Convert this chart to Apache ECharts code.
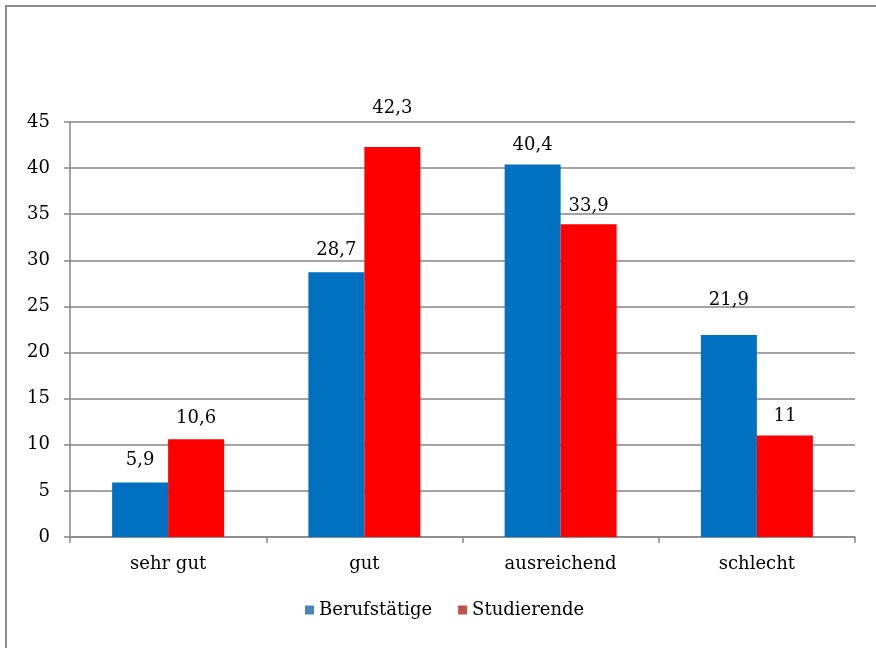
<!DOCTYPE html>
<html>
<head>
<meta charset="utf-8">
<script src="https://cdn.jsdelivr.net/npm/echarts@6/dist/echarts.min.js"></script>
<style>
  html, body { margin: 0; padding: 0; background: #fff; }
  #frame { position: absolute; left: 5px; top: 5px; width: 880px; height: 660px;
           border-left: 2px solid #8c8c8c; border-top: 2px solid #8c8c8c; box-sizing: border-box; }
  #chart { position: absolute; left: 0; top: 0; width: 876px; height: 648px; }
</style>
</head>
<body>
<div id="frame"></div>
<div id="chart"></div>
<script>
// Ratings by group (percent)
const categories = ['sehr gut', 'gut', 'ausreichend', 'schlecht'];
const berufstaetige = [5.9, 28.7, 40.4, 21.9];
const studierende = [10.6, 42.3, 33.9, 11];
const yTicks = [0, 5, 10, 15, 20, 25, 30, 35, 40, 45];

// Label gaps above each bar, in pixels
const gapBeruf = [13, 13, 10, 26];
const gapStud = [12, 30, 9, 10];

const FONT = 'DejaVu Serif';
const GRID = '#868686';

function fmt(v) { return String(v).replace('.', ','); }

function barData(values, gaps) {
  return values.map((v, i) => ({ value: v, label: { distance: gaps[i] } }));
}

const chart = echarts.init(document.getElementById('chart'), null, { renderer: 'canvas' });
chart.setOption({
  animation: false,
  textStyle: { fontFamily: FONT },
  grid: { left: 70, right: 21, top: 122, bottom: 111, containLabel: false },
  legend: {
    bottom: 24,
    left: 300,
    itemWidth: 9,
    itemHeight: 9,
    itemGap: 26,
    icon: 'rect',
    textStyle: { fontFamily: FONT, fontSize: 18, color: '#000' },
    data: [
      { name: 'Berufstätige', itemStyle: { color: '#4F81BD' } },
      { name: 'Studierende', itemStyle: { color: '#C0504D' } }
    ]
  },
  xAxis: {
    type: 'category',
    data: categories,
    axisLine: { lineStyle: { color: GRID, width: 1.5 } },
    axisTick: { show: true, length: 6, lineStyle: { color: GRID, width: 1.5 } },
    axisLabel: { fontFamily: FONT, fontSize: 18, color: '#000', margin: 18 }
  },
  yAxis: {
    type: 'value',
    min: yTicks[0],
    max: yTicks[yTicks.length - 1],
    interval: 5,
    axisLine: { show: true, lineStyle: { color: GRID, width: 1.5 } },
    axisTick: { show: true, length: 6, lineStyle: { color: GRID, width: 1.5 } },
    splitLine: { show: true, lineStyle: { color: GRID, width: 1.5 } },
    axisLabel: { fontFamily: FONT, fontSize: 18, color: '#000', margin: 20 }
  },
  series: [
    {
      name: 'Berufstätige',
      type: 'bar',
      data: barData(berufstaetige, gapBeruf),
      barWidth: 56,
      barGap: '0%',
      itemStyle: { color: '#0070C0' },
      label: { show: true, position: 'top', fontFamily: FONT, fontSize: 18, color: '#000',
               formatter: p => fmt(p.value) }
    },
    {
      name: 'Studierende',
      type: 'bar',
      data: barData(studierende, gapStud),
      barWidth: 56,
      barGap: '0%',
      itemStyle: { color: '#FF0000' },
      label: { show: true, position: 'top', fontFamily: FONT, fontSize: 18, color: '#000',
               formatter: p => fmt(p.value) }
    }
  ]
});
</script>
</body>
</html>
